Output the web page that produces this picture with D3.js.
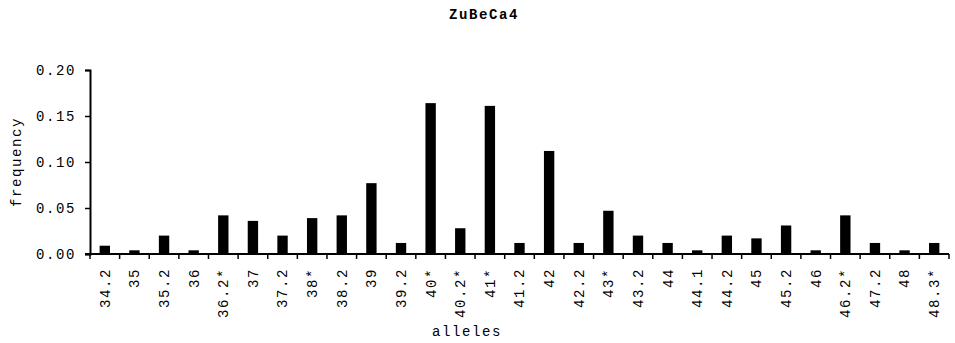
<!DOCTYPE html>
<html>
<head>
<meta charset="utf-8">
<script src="https://cdn.jsdelivr.net/npm/d3@7/dist/d3.min.js"></script>
<style>
  html, body { margin: 0; padding: 0; background: #fff; }
  svg { display: block; }
  text { font-family: "Liberation Mono", "DejaVu Sans Mono", monospace; fill: #000; }
</style>
</head>
<body>
<svg id="chart" width="955" height="343"></svg>
<script>
// Allele labels (x axis categories)
const alleles = ["34.2", "35", "35.2", "36", "36.2*", "37", "37.2", "38*", "38.2", "39",
  "39.2", "40*", "40.2*", "41*", "41.2", "42", "42.2", "43*", "43.2", "44",
  "44.1", "44.2", "45", "45.2", "46", "46.2*", "47.2", "48", "48.3*"];

// Observed frequency for each allele
const frequency = [0.009, 0.004, 0.020, 0.004, 0.042, 0.036, 0.020, 0.039, 0.042, 0.077,
  0.012, 0.164, 0.028, 0.161, 0.012, 0.112, 0.012, 0.047, 0.020, 0.012,
  0.004, 0.020, 0.017, 0.031, 0.004, 0.042, 0.012, 0.004, 0.012];

// Y axis tick values
const yTicks = [0, 0.05, 0.10, 0.15, 0.20];

const chartTitle = "ZuBeCa4";
const xTitle = "alleles";
const yTitle = "frequency";

const svg = d3.select("#chart");
const plotLeft = 90, plotRight = 949, plotTop = 70, plotBottom = 254;

const x = d3.scaleBand()
  .domain(alleles)
  .range([plotLeft, plotRight])
  .paddingInner(0.65)
  .paddingOuter(0.325);

const y = d3.scaleLinear().domain([0, 0.20]).range([plotBottom, plotTop]);

const fontSize = "14px";
const spacing = "1.6px";

// Bars
svg.append("g")
  .selectAll("rect")
  .data(alleles)
  .join("rect")
  .attr("x", d => x(d))
  .attr("width", x.bandwidth())
  .attr("y", (d, i) => y(frequency[i]))
  .attr("height", (d, i) => y(0) - y(frequency[i]))
  .attr("fill", "#000");

// Y axis
const yAxis = svg.append("g")
  .attr("transform", `translate(${plotLeft},0)`)
  .call(d3.axisLeft(y).tickValues(yTicks).tickFormat(d3.format(".2f")).tickSize(5).tickPadding(9));
yAxis.select(".domain").attr("stroke", "#000").attr("stroke-width", 2);
yAxis.selectAll(".tick line").attr("stroke", "#000").attr("stroke-width", 1.5);
yAxis.selectAll(".tick text")
  .style("font-family", "Liberation Mono, monospace")
  .style("font-size", fontSize)
  .style("letter-spacing", spacing)
  .attr("fill", "#000");

// X axis baseline with tick marks on band boundaries
const step = x.step();
const boundaries = d3.range(alleles.length + 1).map(i => plotLeft + i * step);
svg.append("line")
  .attr("x1", plotLeft - 5).attr("x2", plotRight)
  .attr("y1", plotBottom).attr("y2", plotBottom)
  .attr("stroke", "#000").attr("stroke-width", 2);
svg.append("g")
  .selectAll("line")
  .data(boundaries)
  .join("line")
  .attr("x1", d => d).attr("x2", d => d)
  .attr("y1", plotBottom).attr("y2", plotBottom + 5)
  .attr("stroke", "#000").attr("stroke-width", 1.5);

// X labels, rotated to read upward
svg.append("g")
  .selectAll("text")
  .data(alleles)
  .join("text")
  .attr("transform", d => `translate(${x(d) + x.bandwidth() / 2},${plotBottom + 14}) rotate(-90)`)
  .attr("text-anchor", "end")
  .attr("dy", "0.35em")
  .style("font-size", fontSize)
  .style("letter-spacing", spacing)
  .text(d => d);

// Titles
svg.append("text")
  .attr("x", 484).attr("y", 19)
  .attr("text-anchor", "middle")
  .style("font-size", fontSize)
  .style("font-weight", "bold")
  .style("letter-spacing", spacing)
  .text(chartTitle);

svg.append("text")
  .attr("x", 467).attr("y", 336)
  .attr("text-anchor", "middle")
  .style("font-size", fontSize)
  .style("letter-spacing", spacing)
  .text(xTitle);

svg.append("text")
  .attr("transform", `translate(21,${(plotTop + plotBottom) / 2}) rotate(-90)`)
  .attr("text-anchor", "middle")
  .style("font-size", fontSize)
  .style("letter-spacing", spacing)
  .text(yTitle);
</script>
</body>
</html>
